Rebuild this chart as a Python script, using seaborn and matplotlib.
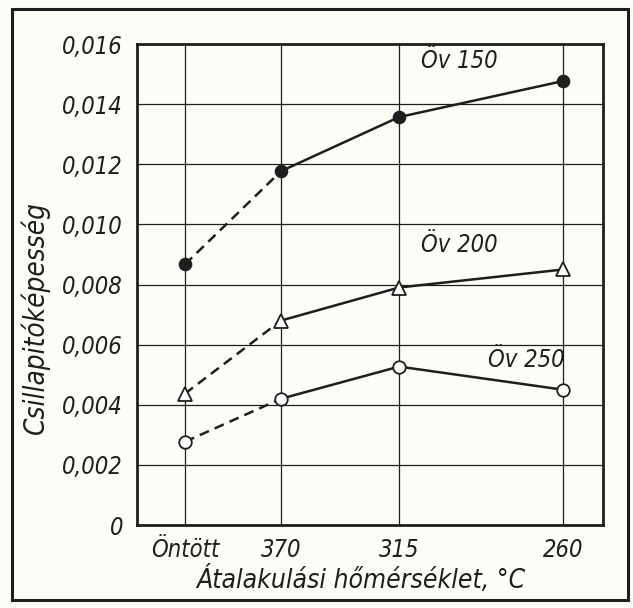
import matplotlib
matplotlib.use("Agg")
import matplotlib.pyplot as plt
import seaborn as sns
import pandas as pd
from matplotlib.patches import Rectangle

categories = ["Öntött", "370", "315", "260"]
x_positions = [0.0, 1.0, 2.23, 3.94]
ov150 = [0.00867, 0.01177, 0.01357, 0.01477]
ov200 = [0.00437, 0.0068, 0.0079, 0.0085]
ov250 = [0.00277, 0.0042, 0.00527, 0.0045]
series_names = ["Öv 150", "Öv 200", "Öv 250"]
y_ticks = [0, 0.002, 0.004, 0.006, 0.008, 0.010, 0.012, 0.014, 0.016]
y_ticklabels = ["0", "0,002", "0,004", "0,006", "0,008", "0,010", "0,012", "0,014", "0,016"]

sns.set_style("white")
plt.rcParams["font.family"] = ["DejaVu Sans"]

ink = "#1e1e1e"
bg = "#fdfcf7"
fig = plt.figure(figsize=(6.33, 6.08), dpi=100, facecolor=bg)
ax = fig.add_axes([0.2164, 0.1365, 0.7362, 0.7911], facecolor=bg)

fnt = dict(style="italic", fontstretch="condensed", color=ink)

styles = [
    dict(marker="o", mfc=ink, ms=8.5),
    dict(marker="^", mfc="white", ms=10),
    dict(marker="o", mfc="white", ms=9),
]
for name, vals, st in zip(series_names, [ov150, ov200, ov250], styles):
    df = pd.DataFrame({"x": x_positions, "y": vals})
    sns.lineplot(data=df.iloc[:2], x="x", y="y", ax=ax, color=ink, lw=1.8,
                 linestyle=(0, (4, 2.5)), zorder=3)
    sns.lineplot(data=df.iloc[1:], x="x", y="y", ax=ax, color=ink, lw=1.8, zorder=3)
    ax.plot(df["x"], df["y"], linestyle="none", marker=st["marker"], ms=st["ms"],
            mfc=st["mfc"], mec=ink, mew=1.3, zorder=4)

ax.text(2.86, 0.01545, "Öv 150", fontsize=17, ha="center", va="center", **fnt)
ax.text(2.86, 0.00931, "Öv 200", fontsize=17, ha="center", va="center", **fnt)
ax.text(3.56, 0.00549, "Öv 250", fontsize=17, ha="center", va="center", **fnt)

ax.set_xlim(-0.5, 4.354)
ax.set_ylim(0, 0.016)
ax.set_xticks(x_positions)
ax.set_xticklabels(categories, fontsize=17, **fnt)
ax.set_yticks(y_ticks)
ax.set_yticklabels(y_ticklabels, fontsize=17, **fnt)
ax.tick_params(axis="x", length=0, pad=9)
ax.tick_params(axis="y", length=0, pad=10)
ax.grid(True, color=ink, lw=0.9)
for s in ax.spines.values():
    s.set_visible(True)
    s.set_color(ink)
    s.set_linewidth(2.0)
ax.set_xlabel("Átalakulási hőmérséklet, °C", fontsize=19, **fnt)
ax.set_ylabel("Csillapitóképesség", fontsize=20, **fnt)
ax.yaxis.set_label_coords(-0.187, 0.432)
ax.xaxis.set_label_coords(0.48, -0.085)

fig.patches.append(Rectangle((0.019, 0.013), 0.973, 0.972, transform=fig.transFigure,
                             fill=False, edgecolor=ink, lw=2.2))

fig.savefig("out.png", dpi=100, facecolor=bg)
